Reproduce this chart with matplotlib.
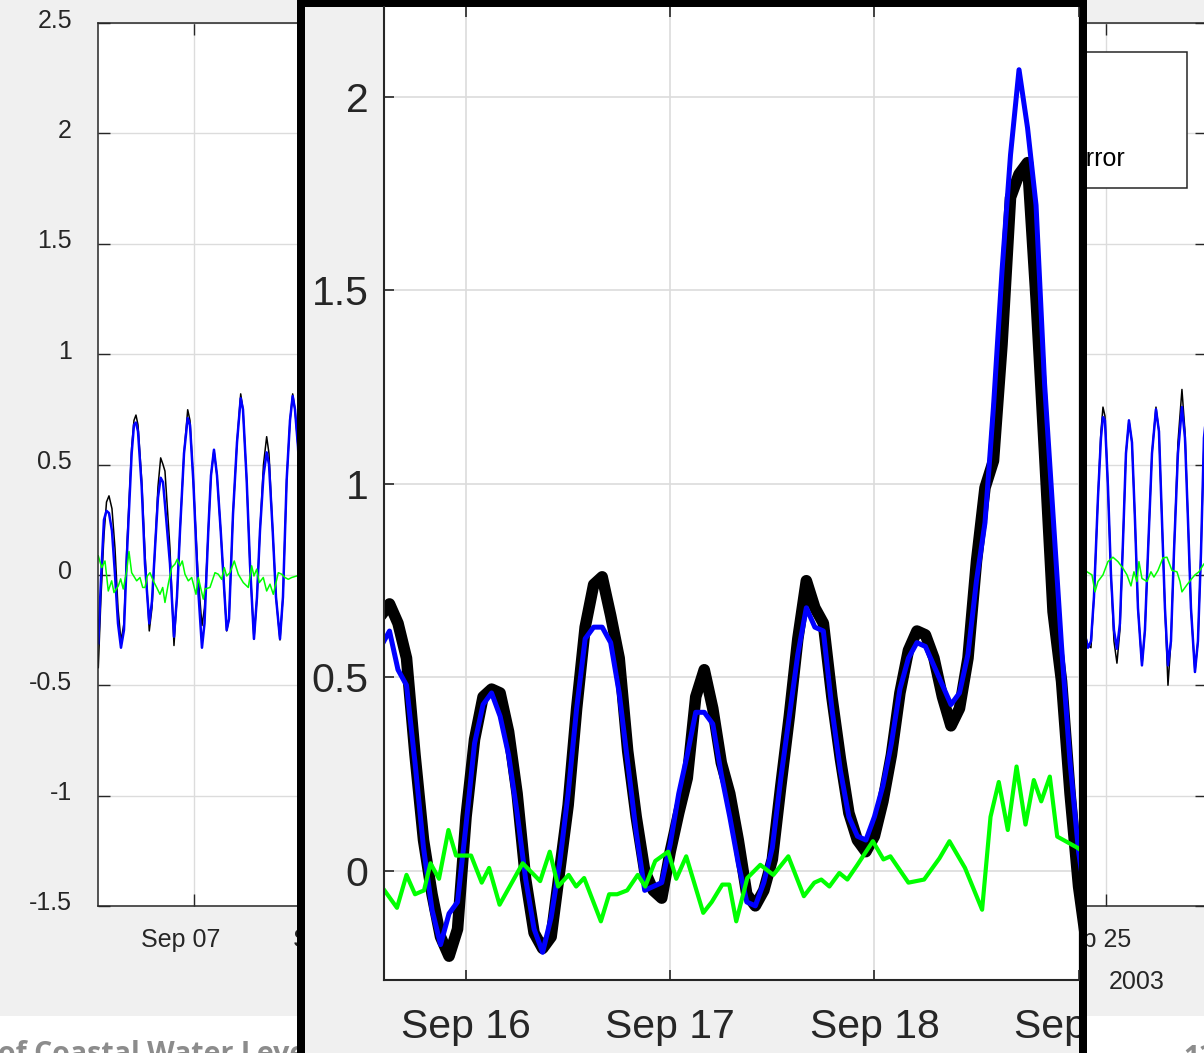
import datetime as dt
import matplotlib
matplotlib.use('Agg')
import matplotlib.pyplot as plt
import matplotlib.transforms as mtransforms
from matplotlib.patches import Rectangle

plt.rcParams['font.family'] = ['Liberation Sans', 'DejaVu Sans']

W, H = 1204, 1053
TXT = '#262626'
GRID = '#dcdcdc'

# ---- background chart: day of September 2003 ----
left_day = [5.100, 5.153, 5.212, 5.262, 5.311, 5.370, 5.430, 5.489, 5.548, 5.607,
            5.667, 5.759, 5.805, 5.844, 5.884, 5.957, 6.022, 6.107, 6.160, 6.220,
            6.279, 6.332, 6.378, 6.417, 6.516, 6.595, 6.654, 6.714, 6.793, 6.866,
            6.911, 6.976, 7.069, 7.148, 7.198, 7.273, 7.326, 7.385, 7.445, 7.518,
            7.583, 7.636, 7.682, 7.761, 7.840, 7.913, 7.958, 8.031, 8.096, 8.175,
            8.235, 8.294, 8.363, 8.426, 8.472, 8.545, 8.610, 8.689, 8.748, 8.821,
            8.887, 8.940, 8.985, 9.045, 9.124]
left_obs = [-0.42, -0.10, 0.18, 0.33, 0.358, 0.30, 0.12, -0.15, -0.30, -0.22,
            0.14, 0.577, 0.70, 0.724, 0.68, 0.43, 0.10, -0.254, -0.15, 0.12,
            0.40, 0.53, 0.50, 0.47, 0.12, -0.32, -0.10, 0.20, 0.55, 0.748,
            0.70, 0.43, 0.00, -0.23, -0.15, 0.20, 0.45, 0.567, 0.45, 0.20,
            -0.05, -0.254, -0.20, 0.275, 0.60, 0.82, 0.75, 0.43, 0.05, -0.29,
            -0.10, 0.20, 0.50, 0.626, 0.55, 0.20, -0.10, -0.295, -0.10, 0.43,
            0.70, 0.82, 0.75, 0.58, 0.20]
left_pred = [-0.31, -0.02, 0.25, 0.29, 0.28, 0.20, 0.00, -0.22, -0.33, -0.25,
             0.10, 0.55, 0.68, 0.69, 0.65, 0.40, 0.05, -0.22, -0.12, 0.12,
             0.35, 0.44, 0.42, 0.32, 0.05, -0.28, -0.10, 0.20, 0.55, 0.71,
             0.68, 0.43, -0.05, -0.33, -0.22, 0.20, 0.45, 0.567, 0.45, 0.20,
             -0.05, -0.25, -0.20, 0.275, 0.60, 0.80, 0.75, 0.43, 0.05, -0.29,
             -0.10, 0.20, 0.45, 0.555, 0.50, 0.20, -0.10, -0.29, -0.10, 0.43,
             0.70, 0.81, 0.75, 0.58, 0.20]
left_err_day = [5.100, 5.167, 5.232, 5.297, 5.364, 5.410, 5.495, 5.542, 5.593, 5.661,
                5.706, 5.759, 5.858, 5.923, 5.977, 6.022, 6.068, 6.121, 6.186, 6.253,
                6.318, 6.372, 6.417, 6.482, 6.550, 6.615, 6.660, 6.714, 6.759, 6.812,
                6.878, 6.945, 7.030, 7.075, 7.174, 7.207, 7.306, 7.405, 7.470, 7.537,
                7.589, 7.636, 7.701, 7.786, 7.865, 7.964, 8.063, 8.130, 8.175, 8.229,
                8.280, 8.359, 8.426, 8.492, 8.557, 8.656, 8.723, 8.788, 8.853, 8.920,
                9.019, 9.124]
left_err = [0.086, 0.033, 0.063, -0.073, -0.027, -0.08, -0.05, -0.018, -0.064, 0.018,
            0.106, 0.01, -0.027, -0.012, -0.057, -0.057, -0.005, 0.01, -0.027, -0.057,
            -0.088, -0.057, -0.125, -0.042, 0.033, 0.049, 0.071, 0.041, 0.063, 0.003,
            -0.027, -0.012, -0.088, -0.012, -0.11, -0.064, -0.057, 0.01, 0.003, -0.02,
            0.033, -0.005, 0.01, 0.063, 0.003, -0.035, -0.057, 0.041, -0.005, 0.026,
            -0.035, -0.012, -0.073, -0.042, -0.088, 0.01, 0.003, -0.012, -0.02, -0.012,
            -0.005, 0.0]

right_day = [24.453, 24.571, 24.650, 24.710, 24.769, 24.848, 24.907, 24.947, 24.986, 25.045,
             25.105, 25.164, 25.223, 25.282, 25.342, 25.401, 25.460, 25.520, 25.579, 25.638,
             25.717, 25.776, 25.836, 25.915, 25.994, 26.053, 26.112, 26.171, 26.231, 26.290,
             26.349, 26.428, 26.507, 26.567, 26.626, 26.685, 26.764, 26.823, 26.883, 26.942,
             27.021]
right_obs = [-0.10, -0.25, -0.32, -0.33, -0.10, 0.35, 0.65, 0.76, 0.72, 0.40,
             0.00, -0.30, -0.40, -0.25, 0.15, 0.55, 0.70, 0.60, 0.25, -0.15,
             -0.41, -0.25, 0.10, 0.55, 0.76, 0.65, 0.25, -0.15, -0.50, -0.30,
             0.10, 0.60, 0.84, 0.65, 0.25, -0.15, -0.44, -0.30, 0.10, 0.60,
             0.80]
right_pred = [0.00, -0.25, -0.33, -0.30, -0.10, 0.35, 0.62, 0.715, 0.70, 0.40,
              0.00, -0.25, -0.335, -0.22, 0.15, 0.55, 0.70, 0.60, 0.25, -0.15,
              -0.41, -0.25, 0.10, 0.55, 0.75, 0.65, 0.25, -0.15, -0.41, -0.30,
              0.10, 0.55, 0.76, 0.62, 0.25, -0.15, -0.44, -0.30, 0.10, 0.62,
              0.80]
right_err_day = [24.492, 24.631, 24.729, 24.789, 24.848, 24.947, 25.045, 25.144, 25.243, 25.342,
                 25.421, 25.500, 25.559, 25.618, 25.658, 25.717, 25.816, 25.895, 25.954, 26.033,
                 26.132, 26.211, 26.310, 26.409, 26.468, 26.507, 26.606, 26.705, 26.764, 26.843,
                 26.942, 27.021]
right_err = [0.05, 0.014, 0.0, -0.077, -0.03, 0.0, 0.06, 0.08, 0.06, 0.03,
             0.0, -0.05, 0.014, -0.03, 0.06, -0.016, -0.03, 0.014, -0.01, 0.02,
             0.077, 0.08, 0.02, 0.014, -0.03, -0.077, -0.045, -0.016, 0.0, 0.014,
             0.05, 0.04]

main_xticks = [7, 10, 13, 16, 19, 22, 25]
main_xlabels = ['Sep 07', 'Sep 10', 'Sep 13', 'Sep 16', 'Sep 19', 'Sep 22', 'Sep 25']
main_yticks = [-1.5, -1, -0.5, 0, 0.5, 1, 1.5, 2, 2.5]
main_ylabels = ['-1.5', '-1', '-0.5', '0', '0.5', '1', '1.5', '2', '2.5']
legend_labels = ['Observed', 'Predicted', 'Prediction error']

# ---- zoomed inset: hours after 2003-09-15 00:00 ----
inset_hour = list(range(14, 98))
inset_obs = [0.66, 0.69, 0.64, 0.55, 0.30, 0.08, -0.06, -0.17, -0.22, -0.15,
             0.14, 0.34, 0.45, 0.47, 0.46, 0.36, 0.20, -0.02, -0.16, -0.20,
             -0.17, 0.00, 0.17, 0.42, 0.63, 0.74, 0.76, 0.66, 0.55, 0.31,
             0.14, 0.00, -0.05, -0.07, 0.05, 0.15, 0.24, 0.45, 0.52, 0.42,
             0.28, 0.20, 0.08, -0.06, -0.09, -0.05, 0.03, 0.22, 0.40, 0.60,
             0.75, 0.68, 0.64, 0.45, 0.29, 0.15, 0.08, 0.05, 0.09, 0.18,
             0.30, 0.46, 0.57, 0.62, 0.61, 0.55, 0.45, 0.375, 0.42, 0.55,
             0.80, 0.99, 1.06, 1.36, 1.74, 1.80, 1.83, 1.48, 1.08, 0.67,
             0.49, 0.20, -0.04, -0.20]
inset_pred = [0.58, 0.62, 0.52, 0.48, 0.28, 0.06, -0.10, -0.19, -0.11, -0.08,
              0.12, 0.33, 0.43, 0.46, 0.40, 0.30, 0.15, -0.02, -0.15, -0.21,
              -0.12, 0.02, 0.20, 0.42, 0.60, 0.63, 0.63, 0.59, 0.46, 0.28,
              0.10, -0.05, -0.04, -0.03, 0.07, 0.20, 0.30, 0.41, 0.41, 0.38,
              0.25, 0.14, 0.02, -0.08, -0.09, -0.03, 0.06, 0.24, 0.40, 0.56,
              0.68, 0.63, 0.62, 0.42, 0.26, 0.14, 0.09, 0.08, 0.14, 0.22,
              0.33, 0.47, 0.55, 0.59, 0.58, 0.53, 0.48, 0.43, 0.46, 0.56,
              0.75, 0.90, 1.20, 1.55, 1.85, 2.07, 1.92, 1.72, 1.26, 0.92,
              0.58, 0.28, 0.05, -0.10]
inset_err_hour = [14.41, 15.88, 17.0, 18.0, 19.06, 19.82, 20.82, 21.93, 22.82, 24.59,
                  25.84, 26.71, 27.94, 30.65, 32.71, 33.84, 34.82, 36.06, 36.94, 37.88,
                  39.85, 40.82, 41.76, 42.94, 44.18, 45.06, 46.24, 47.76, 48.71, 49.88,
                  51.88, 52.88, 54.12, 54.94, 55.76, 57.06, 58.59, 60.12, 61.88, 63.71,
                  64.94, 65.76, 66.71, 67.88, 68.82, 70.0, 71.82, 73.06, 73.88, 76.0,
                  77.84, 79.65, 80.82, 82.65, 84.66, 85.65, 86.62, 87.68, 88.71, 89.76,
                  90.74, 91.61, 92.62, 93.49, 95.88, 96.5]
inset_err = [-0.05, -0.095, -0.01, -0.06, -0.05, 0.02, -0.02, 0.106, 0.04, 0.04,
             -0.03, 0.008, -0.087, 0.02, -0.026, 0.05, -0.04, -0.01, -0.04, -0.018,
             -0.13, -0.06, -0.06, -0.05, -0.01, -0.04, 0.026, 0.05, -0.02, 0.038,
             -0.108, -0.08, -0.035, -0.035, -0.13, -0.018, 0.016, -0.01, 0.038, -0.065,
             -0.03, -0.022, -0.04, -0.005, -0.022, 0.016, 0.077, 0.03, 0.038, -0.03,
             -0.022, 0.033, 0.077, 0.008, -0.10, 0.14, 0.23, 0.106, 0.27, 0.12,
             0.235, 0.18, 0.244, 0.089, 0.06, 0.05]

inset_xticks = [24, 48, 72, 96]
inset_xlabels = ['Sep 16', 'Sep 17', 'Sep 18', 'Sep 19']
inset_yticks = [0, 0.5, 1, 1.5, 2]
inset_ylabels = ['0', '0.5', '1', '1.5', '2']


def sep(day):
    return dt.datetime(2003, 9, 1) + dt.timedelta(days=day - 1)


def hrs(h):
    return dt.datetime(2003, 9, 15) + dt.timedelta(hours=h)


fig = plt.figure(figsize=(W / 100, H / 100), dpi=100, facecolor='#f0f0f0')

# ---------------- main chart ----------------
ax = fig.add_axes([98.3 / W, (H - 906) / H, (1206.9 - 98.3) / W, (906 - 23) / H], zorder=0)
ax.set_axisbelow(True)
h_obs, = ax.plot([sep(d) for d in left_day], left_obs, color='black', lw=1.1)
h_pred, = ax.plot([sep(d) for d in left_day], left_pred, color='#0000ff', lw=1.8)
h_err, = ax.plot([sep(d) for d in left_err_day], left_err, color='#00ff00', lw=1.1)
ax.plot([sep(d) for d in right_day], right_obs, color='black', lw=1.1)
ax.plot([sep(d) for d in right_day], right_pred, color='#0000ff', lw=1.8)
ax.plot([sep(d) for d in right_err_day], right_err, color='#00ff00', lw=1.1)

ax.set_xlim(sep(5.1), sep(27.0))
ax.set_ylim(-1.5, 2.5)
ax.set_xticks([sep(d) for d in main_xticks], main_xlabels)
ax.set_yticks(main_yticks, main_ylabels)
ax.grid(True, color=GRID, lw=1.0)
ax.tick_params(direction='in', length=8.6, width=1.0, color=TXT, top=True, right=True,
               labelsize=18, labelcolor=TXT)
ax.tick_params(axis='y', pad=19)
ax.tick_params(axis='x', pad=16)
for s in ax.spines.values():
    s.set_color(TXT)
    s.set_linewidth(1.1)

# legend box (MATLAB style, wider than its text)
ax.add_patch(Rectangle((850 / W, 1 - 188 / H), (1187 - 850) / W, 136 / H,
                       transform=fig.transFigure, facecolor='white', edgecolor=TXT,
                       lw=1.1, zorder=4.5, clip_on=False))
leg = ax.legend([h_obs, h_pred, h_err], legend_labels, loc='upper right',
                bbox_to_anchor=(1137.5 / W, 1 - 62 / H), bbox_transform=fig.transFigure,
                borderaxespad=0, fontsize=18, frameon=False, borderpad=0.5,
                labelspacing=0.5, handlelength=2.0)
leg.set_zorder(5)

# MATLAB-ish label placement
xoff = mtransforms.ScaledTranslation(-14 / 100, 0, fig.dpi_scale_trans)
for lbl in ax.get_xticklabels():
    lbl.set_transform(lbl.get_transform() + xoff)
yoff = mtransforms.ScaledTranslation(0, 5 / 100, fig.dpi_scale_trans)
for lbl in ax.get_yticklabels():
    lbl.set_transform(lbl.get_transform() + yoff)

fig.text(1137 / W, 1 - 982 / H, '2003', ha='center', va='center', fontsize=18, color=TXT)

# slide footer (runs off the bottom edge)
fig.add_artist(Rectangle((0, 0), 1, (H - 1016) / H, transform=fig.transFigure,
                         facecolor='white', edgecolor='none', zorder=0.5))
fig.text(-2 / W, (H - 1062) / H, 'of Coastal Water Levels', family='Open Sans',
         fontweight='bold', fontsize=20.5, color='#8c8c8c', va='baseline', zorder=0.6)
fig.text(1183 / W, (H - 1066) / H, '13', family='Open Sans',
         fontweight='bold', fontsize=20.5, color='#8c8c8c', va='baseline', zorder=0.6)

# ---------------- zoom inset ----------------
fig.add_artist(Rectangle((297 / W, -0.05), (1087 - 297) / W, 1.05, transform=fig.transFigure,
                         facecolor='black', edgecolor='none', zorder=1))
inner = Rectangle((305 / W, -0.05), (1079 - 305) / W, 0.05 + (H - 7) / H,
                  transform=fig.transFigure, facecolor='#f0f0f0', edgecolor='none', zorder=1.1)
fig.add_artist(inner)

ax2 = fig.add_axes([384.3 / W, (H - 980) / H, (1079 - 384.3) / W, (980 - 7) / H], zorder=2)
ax2.set_axisbelow(True)
ax2.plot([hrs(h) for h in inset_hour], inset_obs, color='black', lw=8.3,
         solid_joinstyle='round', solid_capstyle='round')
ax2.plot([hrs(h) for h in inset_hour], inset_pred, color='#0000ff', lw=3.6, solid_joinstyle='round')
ax2.plot([hrs(h) for h in inset_err_hour], inset_err, color='#00ff00', lw=3.0, solid_joinstyle='round')
ax2.set_xlim(hrs(14.39), hrs(96.05))
ax2.set_ylim(-0.2815, 2.232)
ax2.set_xticks([hrs(h) for h in inset_xticks], inset_xlabels)
ax2.set_yticks(inset_yticks, inset_ylabels)
ax2.grid(True, color=GRID, lw=1.2)
ax2.tick_params(direction='in', length=7, width=1.2, color=TXT, top=True, right=False,
                labelsize=29.5, labelcolor=TXT)
ax2.tick_params(axis='y', pad=11.5)
ax2.tick_params(axis='x', pad=20)
ax2.spines['top'].set_visible(False)
ax2.spines['right'].set_visible(False)
for k in ('left', 'bottom'):
    ax2.spines[k].set_color(TXT)
    ax2.spines[k].set_linewidth(1.5)
for lbl in ax2.get_xticklabels():
    lbl.set_clip_path(inner)

fig.savefig('out.png', dpi=100, facecolor=fig.get_facecolor())
